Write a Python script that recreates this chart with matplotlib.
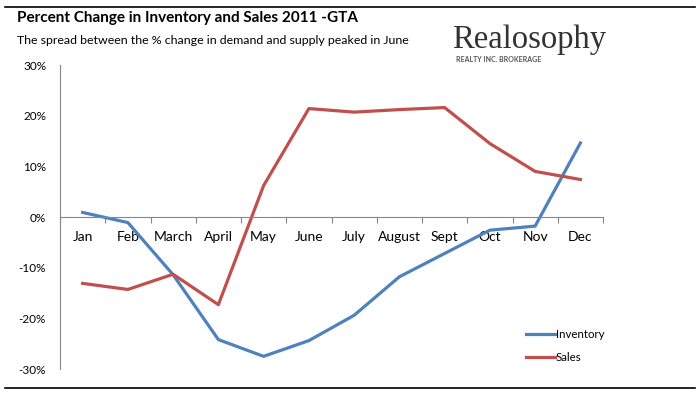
import matplotlib
matplotlib.use("Agg")
import matplotlib.pyplot as plt
from matplotlib.lines import Line2D
import numpy as np

months = ["Jan", "Feb", "March", "April", "May", "June", "July", "August", "Sept", "Oct", "Nov", "Dec"]
inventory = [0.9, -1.1, -11.4, -24.2, -27.5, -24.4, -19.4, -11.8, -7.2, -2.6, -1.8, 14.6]
sales = [-13.1, -14.3, -11.3, -17.3, 6.2, 21.4, 20.7, 21.2, 21.6, 14.5, 9.0, 7.4]
yticks = [-30, -20, -10, 0, 10, 20, 30]

plt.rcParams['font.family'] = ['Lato', 'DejaVu Sans']

fig = plt.figure(figsize=(7, 3.96), dpi=100)
ax = fig.add_axes([60/700, 27/396, 543/700, 304/396])

x = np.arange(len(months))
blue = '#4F81BD'
red = '#C0504D'
ax.plot(x, inventory, color=blue, lw=2.3, solid_joinstyle='round', label='Inventory')
ax.plot(x, sales, color=red, lw=2.3, solid_joinstyle='round', label='Sales')

ax.set_xlim(-0.5, len(months) - 0.5)
ax.set_ylim(-30, 30)
ax.set_yticks(yticks)
ax.set_yticklabels([f"{v}%" for v in yticks], fontsize=8.5)
ax.tick_params(axis='y', length=0, pad=10)

ax.set_xticks(np.arange(len(months) + 1) - 0.5)
ax.set_xticklabels([])
ax.set_xticks(x, minor=True)
ax.set_xticklabels(months, minor=True, fontsize=8.3)
ax.tick_params(axis='x', which='major', length=4, color='#868686', direction='out')
ax.tick_params(axis='x', which='minor', length=0, pad=10)

for s in ['top', 'right']:
    ax.spines[s].set_visible(False)
ax.spines['left'].set_color('#868686')
ax.spines['bottom'].set_color('#868686')
ax.spines['bottom'].set_position(('data', 0))

# legend
leg = ax.legend(loc='upper left', bbox_to_anchor=(460/543, 1 - (323-65)/304), frameon=False,
                fontsize=8.3, handlelength=2.5, handletextpad=0.1, labelspacing=1.05, borderpad=0)

# frame lines
fig.add_artist(Line2D([5/700, 695/700], [1 - 7/396, 1 - 7/396], color='black', lw=1.2))
fig.add_artist(Line2D([5/700, 695/700], [1 - 388/396, 1 - 388/396], color='black', lw=1.2))

fig.text(17/700, 1 - 18/396, "Percent Change in Inventory and Sales 2011 -GTA", fontsize=11,
         fontweight='bold', va='center', ha='left')
fig.text(17/700, 1 - 40/396, "The spread between the % change in demand and supply peaked in June",
         fontsize=8.9, va='center', ha='left')

fig.text(452/700, 1 - 48/396, "Realosophy", family='Liberation Serif', fontsize=23.5,
         color='#333333', va='baseline', ha='left')
fig.text(456/700, 1 - 59/396, "REALTY INC. BROKERAGE", fontsize=5, fontweight='bold',
         color='#555555', va='center', ha='left')

fig.savefig("out.png", dpi=100)
